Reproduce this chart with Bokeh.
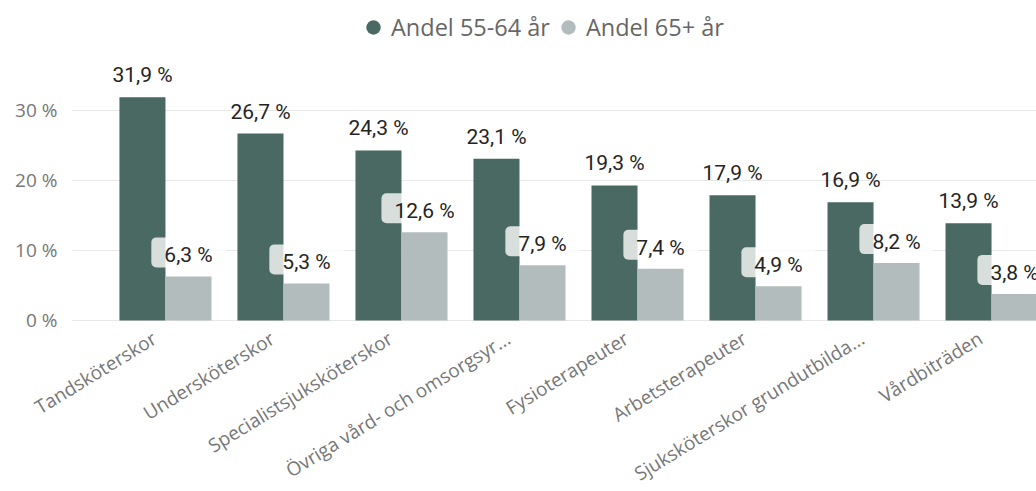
from bokeh.plotting import figure
from bokeh.models import Range1d, FixedTicker, Legend, LegendItem, ColumnDataSource, BoxAnnotation
from bokeh.core.properties import value
from bokeh.embed import file_html
from bokeh.resources import INLINE

categories = ["Tandsköterskor", "Undersköterskor", "Specialistsjuksköterskor",
              "Övriga vård- och omsorgsyr...", "Fysioterapeuter", "Arbetsterapeuter",
              "Sjuksköterskor grundutbilda...", "Vårdbiträden"]
andel_55_64 = [31.9, 26.7, 24.3, 23.1, 19.3, 17.9, 16.9, 13.9]
andel_65 = [6.3, 5.3, 12.6, 7.9, 7.4, 4.9, 8.2, 3.8]
series_names = ["Andel 55-64 år", "Andel 65+ år"]
y_ticks = [0, 10, 20, 30]
y_tick_labels = ["0 %", "10 %", "20 %", "30 %"]

DARK = "#496962"
LIGHT = "#b3bcbc"
AXIS_GRAY = "#777777"
LABEL_COLOR = "#252423"
BAR_W = 0.39
PLOT_LEFT = -0.788      # where the value axis sits (data units)
LABEL_SHIFT = -0.093    # category label anchor offset

def fmt(v):
    return f"{v:.1f}".replace(".", ",") + " %"

idx = list(range(len(categories)))
src = ColumnDataSource(dict(
    xd=[i - BAR_W / 2 for i in idx],
    xl=[i + BAR_W / 2 for i in idx],
    d=andel_55_64,
    l=andel_65,
    dlab=[fmt(v) for v in andel_55_64],
    llab=[fmt(v) for v in andel_65],
))

p = figure(width=1036, height=491, output_backend="svg", toolbar_location=None,
           x_range=Range1d(-1.398, 7.381), y_range=Range1d(-24.43, 45.714))
p.min_border_left = 0
p.min_border_right = 0
p.min_border_top = 0
p.min_border_bottom = 0
p.outline_line_color = None

# hide gridlines left of the value axis
p.add_layout(BoxAnnotation(right=PLOT_LEFT, fill_color="white", fill_alpha=1.0,
                           line_color=None, level="underlay"))

p.vbar(x="xd", top="d", width=BAR_W, bottom=0, source=src, fill_color=DARK, line_color=None)
p.vbar(x="xl", top="l", width=BAR_W, bottom=0, source=src, fill_color=LIGHT, line_color=None)

p.text(x="xd", y="d", text="dlab", source=src, text_align="center", text_baseline="alphabetic",
       y_offset=-22, text_font=value("Roboto"), text_font_size="21px", text_color=LABEL_COLOR)
p.text(x="xl", y="l", text="llab", source=src, text_align="center", text_baseline="alphabetic",
       y_offset=-24, text_font=value("Roboto"), text_font_size="21px", text_color=LABEL_COLOR,
       background_fill_color="white", background_fill_alpha=0.78,
       padding=dict(left=13, right=13, top=6, bottom=0), border_radius=5)

# category axis drawn at y = 0
p.xaxis.fixed_location = 0
p.xaxis.ticker = FixedTicker(ticks=[i + LABEL_SHIFT for i in idx])
p.xaxis.major_label_overrides = {i + LABEL_SHIFT: c for i, c in zip(idx, categories)}
p.xaxis.major_label_orientation = 0.55
p.xaxis.axis_line_color = None
p.xaxis.major_tick_line_color = None
p.xaxis.minor_tick_line_color = None
p.xaxis.major_tick_out = 0
p.xaxis.major_label_standoff = 16
p.xaxis.major_label_text_font = "Open Sans"
p.xaxis.major_label_text_font_size = "19px"
p.xaxis.major_label_text_color = AXIS_GRAY
p.xgrid.grid_line_color = None

# value axis drawn at the plot's left edge
p.yaxis.fixed_location = PLOT_LEFT
p.yaxis.ticker = FixedTicker(ticks=y_ticks)
p.yaxis.major_label_overrides = {t: s for t, s in zip(y_ticks, y_tick_labels)}
p.yaxis.axis_line_color = None
p.yaxis.major_tick_line_color = None
p.yaxis.minor_tick_line_color = None
p.yaxis.major_tick_out = 0
p.yaxis.major_label_standoff = 15
p.yaxis.major_label_text_font = "Open Sans"
p.yaxis.major_label_text_font_size = "19px"
p.yaxis.major_label_text_color = AXIS_GRAY
p.ygrid.grid_line_color = "#e8e8e8"

# legend
nan = float("nan")
r1 = p.scatter(x=[nan], y=[nan], marker="circle", size=14, fill_color=DARK, line_color=None)
r2 = p.scatter(x=[nan], y=[nan], marker="circle", size=14, fill_color=LIGHT, line_color=None)
legend = Legend(items=[LegendItem(label=series_names[0], renderers=[r1]),
                       LegendItem(label=series_names[1], renderers=[r2])],
                orientation="horizontal", location=(355, 446),
                glyph_width=36, glyph_height=36, label_standoff=0, spacing=0,
                padding=0, margin=0, border_line_color=None, background_fill_alpha=0,
                label_text_font="Open Sans", label_text_font_size="23.5px",
                label_text_color="#666666")
p.add_layout(legend, "center")

open("out.html", "w").write(file_html(p, INLINE))
